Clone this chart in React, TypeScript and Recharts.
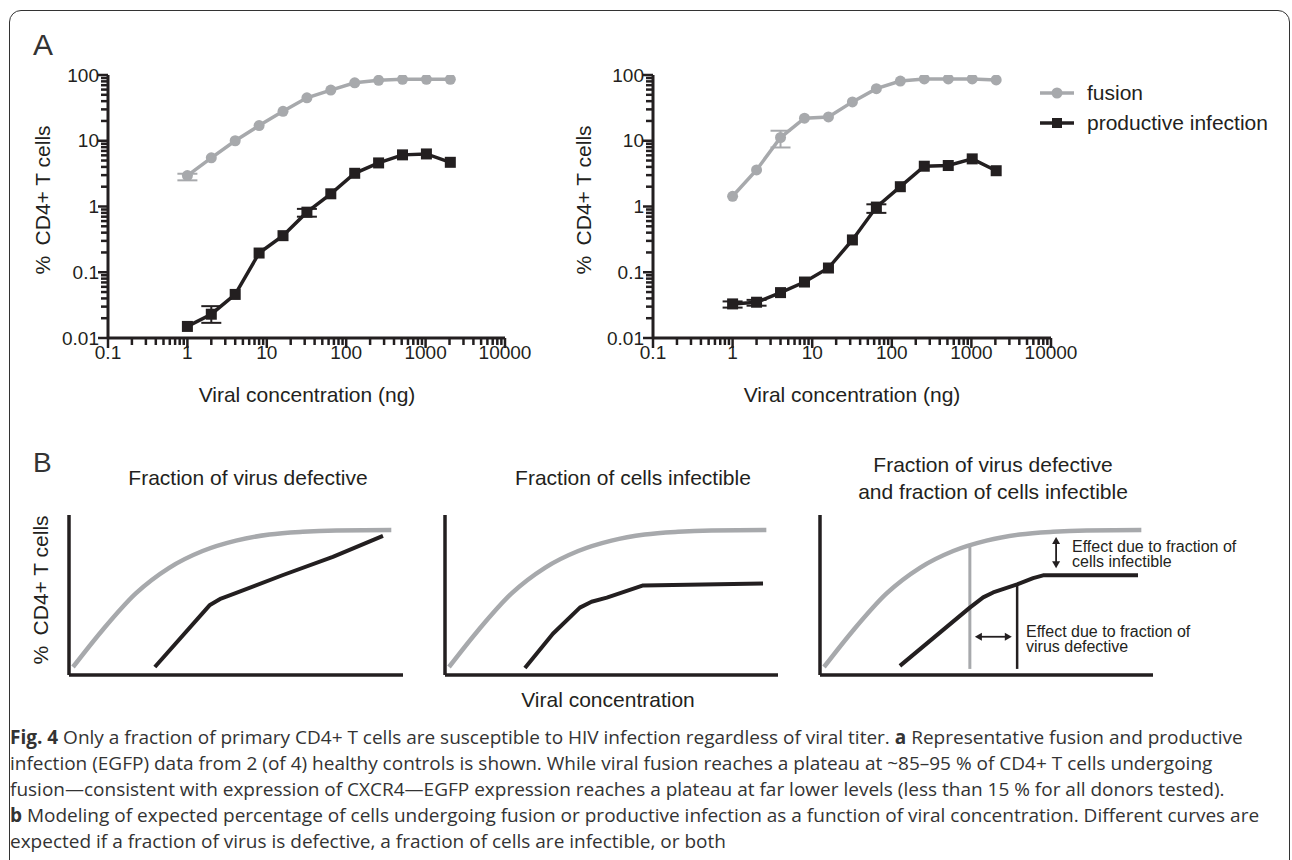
import React from "react";
import { ErrorBar, Legend, Line, LineChart, ReferenceLine, XAxis, YAxis } from "recharts";

const INK = "#231f20";
const GRAY = "#a7a9ac";
const FONT = "'Liberation Sans', Arial, Helvetica, sans-serif";

// panel A: viral concentration (ng), two-fold dilutions
const concentrations = [1, 2, 4, 8, 16, 32, 64, 128, 256, 512, 1024, 2048];

// donor 1 (left plot)
const donor1Fusion = [2.95, 5.5, 10, 17, 28, 45, 59, 76, 83, 86, 86, 86];
const donor1FusionErr = [[0.45, 0.2], null, null, null, null, null, null, null, null, null, null, null];
const donor1Productive = [0.015, 0.023, 0.046, 0.196, 0.36, 0.82, 1.56, 3.2, 4.6, 6.1, 6.3, 4.7];
const donor1ProductiveErr = [null, [0.006, 0.0075], null, null, null, [0.12, 0.1], null, null, null, null, null, null];

// donor 2 (right plot)
const donor2Fusion = [1.43, 3.6, 11.2, 22, 23, 39, 62, 81, 87, 87, 87, 84];
const donor2FusionErr = [null, null, [3.3, 3], null, null, null, null, null, null, null, null, null];
const donor2Productive = [0.033, 0.035, 0.049, 0.071, 0.116, 0.31, 0.98, 2.0, 4.1, 4.2, 5.3, 3.5];
const donor2ProductiveErr = [[0.004, 0.003], [0.004, 0.003], null, null, null, null, [0.18, 0.1], null, null, null, null, null];

// log axes
const xDecades = [0.1, 1, 10, 100, 1000, 10000];
const xDecadeLabels = ["0.1", "1", "10", "100", "1000", "10000"];
const yDecades = [0.01, 0.1, 1, 10, 100];
const yDecadeLabels = ["0.01", "0.1", "1", "10", "100"];
const minorSteps = [2, 3, 4, 5, 6, 7, 8, 9];

const withMinor = (decades: number[]) => [
  ...decades,
  ...decades.slice(0, -1).flatMap((d) => minorSteps.map((m) => Number((d * m).toPrecision(3)))),
];
const xTicks = withMinor(xDecades);
const yTicks = withMinor(yDecades);

const legendItems = [
  { name: "fusion", color: GRAY, marker: "circle" },
  { name: "productive infection", color: INK, marker: "square" },
];

// panel B: model curves (x and y in % of axis range)
const fusionModelX = [1.2, 10, 20, 30, 40, 50, 60, 70, 80, 96.5];
const fusionModelY = [5, 28, 51, 67, 77.5, 84, 87.8, 89.5, 90.3, 90.6];
const defectiveX = [25.7, 42.2, 45.5, 49.1, 64.1, 79.0, 94.0];
const defectiveY = [5.0, 43.8, 47.8, 50.5, 62.5, 73.8, 86.9];
const infectibleX = [24.0, 32.4, 40.5, 44.0, 48.6, 59.5, 95.5];
const infectibleY = [4.4, 25.8, 42.1, 45.8, 48.4, 56.0, 57.2];
const bothX = [24.0, 45.0, 49.0, 52.0, 59.2, 64.0, 67.0, 95.5];
const bothY = [5.7, 42.1, 48.5, 51.6, 56.6, 60.5, 62.3, 62.3];

const toPoints = (xs: number[], ys: number[]) => xs.map((x, i) => ({ x, y: ys[i] }));
const fusionModel = toPoints(fusionModelX, fusionModelY);

const buildRows = (fusion: number[], fusionErr: any[], prod: number[], prodErr: any[]) =>
  concentrations.map((conc, i) => ({
    conc,
    fusion: fusion[i],
    fusionErr: fusionErr[i] ?? undefined,
    prod: prod[i],
    prodErr: prodErr[i] ?? undefined,
  }));

const XTick = (props: any) => {
  const { x, y, payload } = props;
  const i = xDecades.indexOf(payload.value);
  return (
    <g>
      <line x1={x} x2={x} y1={y} y2={y + (i >= 0 ? 10 : 7)} stroke={INK} strokeWidth={2.5} />
      {i >= 0 && (
        <text x={x} y={y + 21} textAnchor="middle" fontSize={19} fill={INK}>
          {xDecadeLabels[i]}
        </text>
      )}
    </g>
  );
};

const YTick = (props: any) => {
  const { x, y, payload } = props;
  const i = yDecades.indexOf(payload.value);
  return (
    <g>
      <line x1={x} x2={x - (i >= 0 ? 10 : 7)} y1={y} y2={y} stroke={INK} strokeWidth={2.5} />
      {i >= 0 && (
        <text x={x - 9} y={y} dy="0.35em" textAnchor="end" fontSize={19} fill={INK}>
          {yDecadeLabels[i]}
        </text>
      )}
    </g>
  );
};

const CircleDot = (p: any) =>
  p.cx == null ? <g key={p.index} /> : <circle key={p.index} cx={p.cx} cy={p.cy} r={5.5} fill={GRAY} />;
const SquareDot = (p: any) =>
  p.cx == null ? <g key={p.index} /> : <rect key={p.index} x={p.cx - 5.5} y={p.cy - 5.5} width={11} height={11} fill={INK} />;

const LegendBox = () => (
  <div style={{ fontFamily: FONT, fontSize: 21, color: INK }}>
    {legendItems.map((item) => (
      <div key={item.name} style={{ display: "flex", alignItems: "center", height: 30 }}>
        <svg width={34} height={20} style={{ marginRight: 13 }}>
          <line x1={0} x2={34} y1={10} y2={10} stroke={item.color} strokeWidth={3.5} />
          {item.marker === "circle" ? (
            <circle cx={17} cy={10} r={5.5} fill={item.color} />
          ) : (
            <rect x={12} y={5} width={10} height={10} fill={item.color} />
          )}
        </svg>
        <span>{item.name}</span>
      </div>
    ))}
  </div>
);

const TiterChart = ({ rows, width, marginLeft, marginRight, yLabelX, xLabelX, letter, legend }: any) => (
  <LineChart width={width} height={420} data={rows} margin={{ top: 75, right: marginRight, bottom: 52, left: marginLeft }}>
    <XAxis
      dataKey="conc"
      type="number"
      scale="log"
      domain={[0.1, 10000]}
      allowDataOverflow
      ticks={xTicks}
      interval={0}
      tickSize={0}
      tickMargin={0}
      tickLine={false}
      tick={(p: any) => <XTick {...p} />}
      axisLine={{ stroke: INK, strokeWidth: 3 }}
      height={30}
    />
    <YAxis
      type="number"
      scale="log"
      domain={[0.01, 100]}
      allowDataOverflow
      ticks={yTicks}
      interval={0}
      tickSize={0}
      tickMargin={0}
      tickLine={false}
      tick={(p: any) => <YTick {...p} />}
      axisLine={{ stroke: INK, strokeWidth: 3 }}
      width={60}
    />
    <Line dataKey="fusion" name="fusion" stroke={GRAY} strokeWidth={3.5} dot={CircleDot} isAnimationActive={false}>
      <ErrorBar dataKey="fusionErr" direction="y" width={10} strokeWidth={2} stroke={GRAY} />
    </Line>
    <Line dataKey="prod" name="productive infection" stroke={INK} strokeWidth={3.5} dot={SquareDot} isAnimationActive={false}>
      <ErrorBar dataKey="prodErr" direction="y" width={10} strokeWidth={2} stroke={INK} />
    </Line>
    {letter && (
      <text x={33} y={55} fontSize={30} fill="#333">
        {letter}
      </text>
    )}
    <text
      x={yLabelX}
      y={200}
      textAnchor="middle"
      dominantBaseline="central"
      fontSize={21}
      fill={INK}
      transform={`rotate(-90 ${yLabelX} 200)`}
    >
      {"%\u2002CD4+ T cells"}
    </text>
    <text x={xLabelX} y={402} textAnchor="middle" fontSize={21} fill={INK}>
      Viral concentration (ng)
    </text>
    {legend && (
      <Legend
        layout="vertical"
        align="center"
        verticalAlign="middle"
        content={() => <LegendBox />}
        wrapperStyle={{ left: 520, top: 78, width: 250 }}
      />
    )}
  </LineChart>
);

const ArrowShape = (props: any) => {
  const { x1, y1, x2, y2 } = props;
  const len = Math.hypot(x2 - x1, y2 - y1) || 1;
  const ux = (x2 - x1) / len;
  const uy = (y2 - y1) / len;
  const head = (px: number, py: number, dx: number, dy: number) => {
    const bx = px - dx * 7;
    const by = py - dy * 7;
    return `M${px},${py} L${bx - dy * 4},${by + dx * 4} L${bx + dy * 4},${by - dx * 4} Z`;
  };
  return (
    <g>
      <line x1={x1 + ux * 5} y1={y1 + uy * 5} x2={x2 - ux * 5} y2={y2 - uy * 5} stroke={INK} strokeWidth={1.8} />
      <path d={head(x2, y2, ux, uy)} fill={INK} />
      <path d={head(x1, y1, -ux, -uy)} fill={INK} />
    </g>
  );
};

const ModelChart = ({ width, marginLeft, marginRight, black, children }: any) => (
  <LineChart width={width} height={280} margin={{ top: 75, right: marginRight, bottom: 44, left: marginLeft }}>
    <XAxis dataKey="x" type="number" domain={[0, 100]} allowDataOverflow tick={false} tickLine={false} axisLine={{ stroke: INK, strokeWidth: 3.5 }} height={1} />
    <YAxis type="number" domain={[0, 100]} allowDataOverflow tick={false} tickLine={false} axisLine={{ stroke: INK, strokeWidth: 3.5 }} width={1} />
    {children}
    <Line data={fusionModel} dataKey="y" type="monotone" stroke={GRAY} strokeWidth={4.5} dot={false} isAnimationActive={false} />
    <Line data={black} dataKey="y" type="linear" stroke={INK} strokeWidth={4} strokeLinejoin="round" dot={false} isAnimationActive={false} />
  </LineChart>
);

const captionLines = [
  [["Fig. 4", true], [" Only a fraction of primary CD4+ T cells are susceptible to HIV infection regardless of viral titer. ", false], ["a", true], [" Representative fusion and productive", false]],
  [["infection (EGFP) data from 2 (of 4) healthy controls is shown. While viral fusion reaches a plateau at ~85–95 % of CD4+ T cells undergoing", false]],
  [["fusion—consistent with expression of CXCR4—EGFP expression reaches a plateau at far lower levels (less than 15 % for all donors tested).", false]],
  [["b", true], [" Modeling of expected percentage of cells undergoing fusion or productive infection as a function of viral concentration. Different curves are", false]],
  [["expected if a fraction of virus is defective, a fraction of cells are infectible, or both", false]],
] as [string, boolean][][];

const abs = (left: number, top: number): React.CSSProperties => ({ position: "absolute", left, top });

export default function App() {
  const rows1 = buildRows(donor1Fusion, donor1FusionErr, donor1Productive, donor1ProductiveErr);
  const rows2 = buildRows(donor2Fusion, donor2FusionErr, donor2Productive, donor2ProductiveErr);
  return (
    <div style={{ position: "absolute", left: 0, top: 0, width: 1292, height: 860, overflow: "hidden", background: "#fff", fontFamily: FONT }}>
      <div
        style={{
          position: "absolute",
          left: 9,
          top: 10,
          width: 1281,
          height: 900,
          border: "1.5px solid #333",
          borderRadius: 12,
          boxSizing: "border-box",
        }}
      />
      <div style={abs(520, 0)}>
        <TiterChart rows={rows2} width={772} marginLeft={73} marginRight={241} yLabelX={63} xLabelX={332} legend />
      </div>
      <div style={abs(0, 0)}>
        <TiterChart rows={rows1} width={560} marginLeft={48} marginRight={55} yLabelX={42} xLabelX={307} letter="A" />
      </div>

      <div style={abs(0, 440)}>
        <ModelChart width={420} marginLeft={68} marginRight={17} black={toPoints(defectiveX, defectiveY)}>
          <text x={33} y={32} fontSize={28} fill="#333">B</text>
          <text x={248} y={45} textAnchor="middle" fontSize={21} fill={INK}>Fraction of virus defective</text>
          <text x={40} y={150} textAnchor="middle" dominantBaseline="central" fontSize={21} fill={INK} transform="rotate(-90 40 150)">
            {"%\u2002CD4+ T cells"}
          </text>
        </ModelChart>
      </div>
      <div style={abs(420, 440)}>
        <ModelChart width={420} marginLeft={24} marginRight={62} black={toPoints(infectibleX, infectibleY)}>
          <text x={213} y={45} textAnchor="middle" fontSize={21} fill={INK}>Fraction of cells infectible</text>
          <text x={188} y={267} textAnchor="middle" fontSize={21} fill={INK}>Viral concentration</text>
        </ModelChart>
      </div>
      <div style={abs(760, 440)}>
        <ModelChart width={532} marginLeft={59} marginRight={139} black={toPoints(bothX, bothY)}>
          <text x={233} y={32} textAnchor="middle" fontSize={21} fill={INK}>Fraction of virus defective</text>
          <text x={233} y={59} textAnchor="middle" fontSize={21} fill={INK}>and fraction of cells infectible</text>
          <ReferenceLine segment={[{ x: 45, y: 3.8 }, { x: 45, y: 81.5 }]} stroke={GRAY} strokeWidth={3} />
          <ReferenceLine segment={[{ x: 59.2, y: 3.8 }, { x: 59.2, y: 56.6 }]} stroke={INK} strokeWidth={2.5} />
          <ReferenceLine segment={[{ x: 46.5, y: 23.9 }, { x: 57.6, y: 23.9 }]} shape={ArrowShape} />
          <ReferenceLine segment={[{ x: 70.9, y: 86.2 }, { x: 70.9, y: 66.7 }]} shape={ArrowShape} />
          <text x={312} y={112} fontSize={16} fill={INK}>Effect due to fraction of</text>
          <text x={312} y={127} fontSize={16} fill={INK}>cells infectible</text>
          <text x={266} y={197} fontSize={16} fill={INK}>Effect due to fraction of</text>
          <text x={266} y={212} fontSize={16} fill={INK}>virus defective</text>
        </ModelChart>
      </div>

      <div style={{ ...abs(10, 724), fontFamily: "'Open Sans', sans-serif", fontSize: 19, color: "#333", lineHeight: "26px" }}>
        {captionLines.map((line, li) => (
          <div key={li} style={{ whiteSpace: "nowrap" }}>
            {line.map(([t, bold], si) => (
              <span key={si} style={{ fontWeight: bold ? 700 : 400 }}>{t}</span>
            ))}
          </div>
        ))}
      </div>
    </div>
  );
}
